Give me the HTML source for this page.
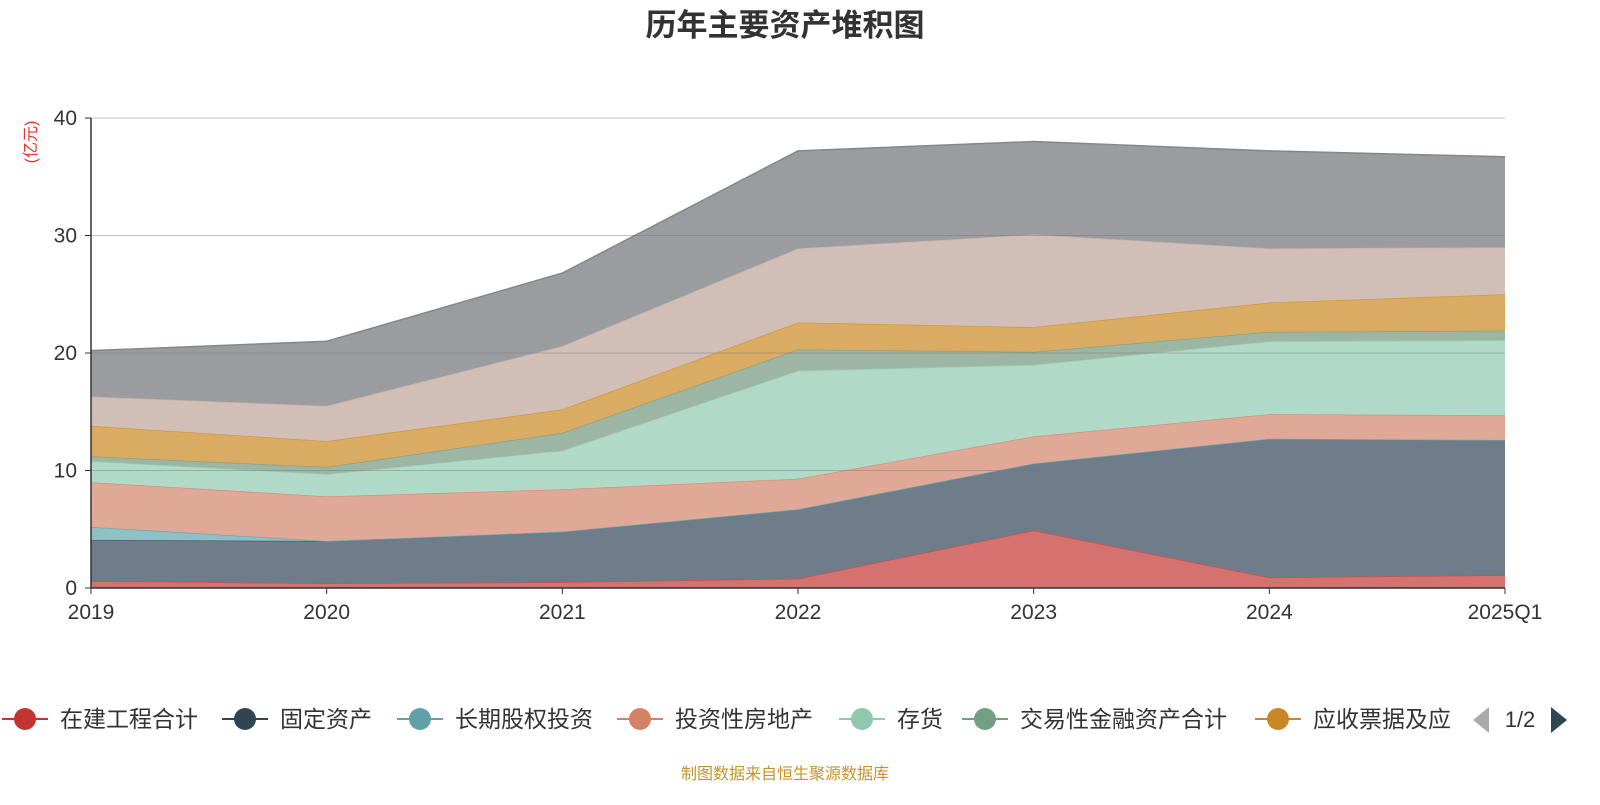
<!DOCTYPE html>
<html><head><meta charset="utf-8">
<style>
body{margin:0;background:#fff;width:1600px;height:800px;overflow:hidden;font-family:"Liberation Sans","Noto Sans CJK SC",sans-serif;}
</style></head>
<body>
<svg id="chart" width="1600" height="800" xmlns="http://www.w3.org/2000/svg" font-family="Liberation Sans, Noto Sans CJK SC, sans-serif">
<text x="785" y="36" text-anchor="middle" font-size="31" font-weight="bold" fill="#333">历年主要资产堆积图</text>
<text transform="translate(36,142) rotate(-90)" text-anchor="middle" font-size="16" fill="#e8332e">(亿元)</text>
<g id="areas"></g>
<g id="grid"></g>
<g id="axes"></g>
<g id="legend"></g>
<text x="785" y="779" text-anchor="middle" font-size="16" fill="#c8922a">制图数据来自恒生聚源数据库</text>
</svg>
<script>
const categories=["2019","2020","2021","2022","2023","2024","2025Q1"];
const seriesNames=["在建工程合计","固定资产","长期股权投资","投资性房地产","存货","交易性金融资产合计","应收票据及应收账款","其他1","其他2"];
const s0=[0.6,0.4,0.5,0.8,4.9,0.9,1.1];
const s1=[3.5,3.6,4.3,5.9,5.7,11.8,11.5];
const s2=[1.1,0,0,0,0,0,0];
const s3=[3.8,3.8,3.6,2.6,2.3,2.1,2.1];
const s4=[1.8,1.9,3.3,9.2,6.1,6.2,6.4];
const s5=[0.4,0.6,1.5,1.8,1.1,0.8,0.8];
const s6=[2.6,2.2,2.0,2.3,2.1,2.5,3.1];
const s7=[2.5,3.0,5.4,6.3,7.9,4.6,4.0];
const s8=[3.9,5.5,6.2,8.3,7.9,8.3,7.7];
const yTicks=[0,10,20,30,40];
const allSeries=[s0,s1,s2,s3,s4,s5,s6,s7,s8];
const fills=["#d47270","#6e7d89","#8fc0c5","#e0a896","#b1d9c7","#9db6a3","#daab62","#d1beb7","#9b9ca0"];
const strokes=["#c9524f","#4f5f6c","#6aa8ae","#d8907a","#96ccb4","#84a38b","#d2993f","#c6aea6","#85868b"];
const x0=91,x1=1505,yBase=588,yTop=118,yMax=40;
const xs=i=>x0+(x1-x0)*i/(categories.length-1);
const ys=v=>yBase-(yBase-yTop)*v/yMax;
const NS="http://www.w3.org/2000/svg";
function mk(t,a,p){const e=document.createElementNS(NS,t);for(const k in a)e.setAttribute(k,a[k]);p.appendChild(e);return e;}
const areas=document.getElementById('areas');
let base=categories.map(()=>0);
allSeries.forEach((s,si)=>{
  const top=base.map((b,i)=>b+s[i]);
  let d="M"+top.map((v,i)=>xs(i)+","+ys(v)).join("L");
  for(let i=categories.length-1;i>=0;i--)d+="L"+xs(i)+","+ys(base[i]);
  d+="Z";
  const p=mk('path',{d:d,fill:fills[si],stroke:"none"},areas);
  
  
  const l=mk('path',{d:"M"+top.map((v,i)=>xs(i)+","+ys(v)).join("L"),fill:"none",stroke:strokes[si],"stroke-width":1.5},areas);
  
  
  base=top;
});
const grid=document.getElementById('grid'),axes=document.getElementById('axes');
yTicks.forEach(t=>{
  if(t>0){const g=mk('line',{x1:x0,x2:x1,y1:ys(t),y2:ys(t),stroke:"rgba(120,120,120,0.45)","stroke-width":1},grid);
  
  }
  mk('line',{x1:x0-6,x2:x0,y1:ys(t),y2:ys(t),stroke:"#333"},axes);
  const tx=mk('text',{x:x0-14,y:ys(t)+7,"text-anchor":"end","font-size":21,fill:"#333"},axes);
  tx.textContent=t;
  
  
});
mk('line',{x1:x0,x2:x0,y1:yTop,y2:yBase,stroke:"#333","stroke-width":1.5},axes);
mk('line',{x1:x0,x2:x1,y1:yBase,y2:yBase,stroke:"#333","stroke-width":1.5},axes);
categories.forEach((c,i)=>{
  mk('line',{x1:xs(i),x2:xs(i),y1:yBase,y2:yBase+6,stroke:"#333"},axes);
  const tx=mk('text',{x:xs(i),y:yBase+31,"text-anchor":"middle","font-size":21,fill:"#333"},axes);
  tx.textContent=c;
  
  
});
const legend=document.getElementById('legend');
const legItems=[["在建工程合计","#c23531",25],["固定资产","#2f4554",245],["长期股权投资","#61a0a8",420],["投资性房地产","#d48265",640],["存货","#91c7ae",862],["交易性金融资产合计","#749f83",985],["应收票据及应","#ca8622",1278]];
legItems.forEach(it=>{
  const g=mk('g',{},legend);
  
  
  mk('line',{x1:it[2]-23,x2:it[2]+23,y1:719,y2:719,stroke:it[1],"stroke-width":2},g);
  mk('circle',{cx:it[2],cy:719,r:11,fill:it[1]},g);
  const t=mk('text',{x:it[2]+35,y:727,"font-size":23,fill:"#333"},g);
  t.textContent=it[0];
});
const pl=mk('path',{d:"M1489,707L1489,733L1473,720Z",fill:"#aaa"},legend);


const pt=mk('text',{x:1520,y:727,"text-anchor":"middle","font-size":22,fill:"#333"},legend);
pt.textContent="1/2";


const pn=mk('path',{d:"M1551,707L1551,733L1567,720Z",fill:"#2f4554"},legend);


</script>
</body></html>
